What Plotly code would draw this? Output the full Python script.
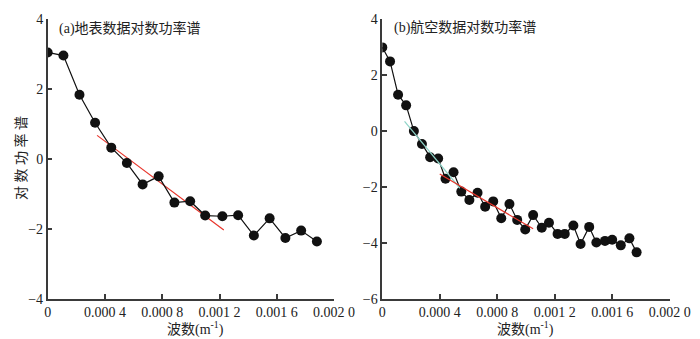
import plotly.graph_objects as go

# (a) surface data log power spectrum
wave_a = [0.0, 0.00011, 0.000222, 0.000331, 0.000444, 0.000553, 0.000663, 0.000775,
          0.000885, 0.000995, 0.00110, 0.00122, 0.00133, 0.00144, 0.00155, 0.00166,
          0.00177, 0.00188]
logp_a = [3.04, 2.95, 1.83, 1.03, 0.32, -0.12, -0.73, -0.50, -1.25, -1.21, -1.62,
          -1.64, -1.61, -2.19, -1.70, -2.26, -2.05, -2.36]
fit_a_x = [0.000345, 0.00123]
fit_a_y = [0.67, -2.03]

# (b) airborne data log power spectrum
wave_b = [0.0, 0.000054, 0.00011, 0.000166, 0.00022, 0.000276, 0.000333, 0.000389,
          0.00044, 0.000496, 0.00055, 0.000606, 0.000663, 0.000716, 0.000772, 0.000828,
          0.000885, 0.000939, 0.000995, 0.00105, 0.00111, 0.00116, 0.00122, 0.00127,
          0.00133, 0.00138, 0.00144, 0.00149, 0.00155, 0.00160, 0.00166, 0.00172,
          0.00177]
logp_b = [2.98, 2.48, 1.29, 0.91, -0.01, -0.47, -0.94, -0.99, -1.71, -1.48, -2.17,
          -2.47, -2.21, -2.71, -2.52, -3.12, -2.61, -3.18, -3.52, -3.01, -3.46, -3.28,
          -3.68, -3.68, -3.38, -4.04, -3.43, -3.99, -3.93, -3.89, -4.09, -3.84, -4.34]
fit_b1_x = [0.000155, 0.00054]
fit_b1_y = [0.34, -2.05]
fit_b2_x = [0.0004, 0.00105]
fit_b2_y = [-1.54, -3.50]

x_ticks = [0, 0.0004, 0.0008, 0.0012, 0.0016, 0.002]
x_ticktext = ["0", "0.000 4", "0.000 8", "0.001 2", "0.001 6", "0.002 0"]
y_ticks_a = [-4, -2, 0, 2, 4]
y_ticks_b = [-6, -4, -2, 0, 2, 4]

W, H = 700, 339
FONT = "Liberation Serif, Times New Roman, Noto Sans CJK SC, serif"
AXC = "#3a3a3a"

fig = go.Figure()

fig.add_trace(go.Scatter(x=fit_a_x, y=fit_a_y, mode="lines",
                         line=dict(color="#e8352b", width=1.2), xaxis="x", yaxis="y"))
fig.add_trace(go.Scatter(x=wave_a, y=logp_a, mode="lines+markers",
                         line=dict(color="#111", width=1.2),
                         marker=dict(color="#111", size=10), xaxis="x", yaxis="y"))

fig.add_trace(go.Scatter(x=wave_b, y=logp_b, mode="lines+markers",
                         line=dict(color="#111", width=1.2),
                         marker=dict(color="#111", size=10), xaxis="x2", yaxis="y2"))
fig.add_trace(go.Scatter(x=fit_b1_x, y=fit_b1_y, mode="lines",
                         line=dict(color="#8fd4c8", width=1.2), xaxis="x2", yaxis="y2"))
fig.add_trace(go.Scatter(x=fit_b2_x, y=fit_b2_y, mode="lines",
                         line=dict(color="#e8352b", width=1.2), xaxis="x2", yaxis="y2"))


def px_x(p):
    return p / W


def px_y(p):
    return 1 - p / H


common_x = dict(range=[0, 0.002], tickvals=x_ticks, ticktext=x_ticktext,
                showline=True, linecolor=AXC, linewidth=1.5, ticks="inside",
                ticklen=5, tickwidth=1.5, tickcolor=AXC, showgrid=False,
                zeroline=False, ticklabeloverflow="allow",
                tickfont=dict(family=FONT, size=14, color="#222"))
common_y = dict(showline=True, linecolor=AXC, linewidth=1.5, ticks="inside",
                ticklen=5, tickwidth=1.5, tickcolor=AXC, showgrid=False,
                zeroline=False, ticklabeloverflow="allow",
                tickfont=dict(family=FONT, size=14, color="#222"))

fig.update_layout(
    width=W, height=H,
    margin=dict(l=0, r=0, t=0, b=0),
    paper_bgcolor="white", plot_bgcolor="white",
    showlegend=False,
    xaxis=dict(domain=[px_x(37), px_x(334)], anchor="y", **common_x),
    yaxis=dict(domain=[px_y(297), px_y(4)], anchor="x", range=[-4, 4],
               tickvals=y_ticks_a, **common_y),
    xaxis2=dict(domain=[px_x(384), px_x(682)], anchor="y2", **common_x),
    yaxis2=dict(domain=[px_y(297), px_y(4)], anchor="x2", range=[-6, 4],
                tickvals=y_ticks_b, **common_y),
)

ann_font = dict(family=FONT, size=14, color="#222")
fig.add_annotation(text="(a)地表数据对数功率谱", x=px_x(47), y=px_y(14),
                   xref="paper", yref="paper", xanchor="left", yanchor="middle",
                   showarrow=False, font=ann_font)
fig.add_annotation(text="(b)航空数据对数功率谱", x=px_x(394), y=px_y(13),
                   xref="paper", yref="paper", xanchor="left", yanchor="middle",
                   showarrow=False, font=ann_font)
fig.add_annotation(text="对 数 功 率 谱", x=px_x(10), y=px_y(150), textangle=-90,
                   xref="paper", yref="paper", xanchor="center", yanchor="middle",
                   showarrow=False, font=dict(family=FONT, size=14, color="#222"))
fig.add_annotation(text="波数(m<sup>-1</sup>)", x=px_x(190), y=px_y(328),
                   xref="paper", yref="paper", xanchor="center", yanchor="middle",
                   showarrow=False, font=ann_font)
fig.add_annotation(text="波数(m<sup>-1</sup>)", x=px_x(532), y=px_y(328),
                   xref="paper", yref="paper", xanchor="center", yanchor="middle",
                   showarrow=False, font=ann_font)

fig.write_html("out.html")
